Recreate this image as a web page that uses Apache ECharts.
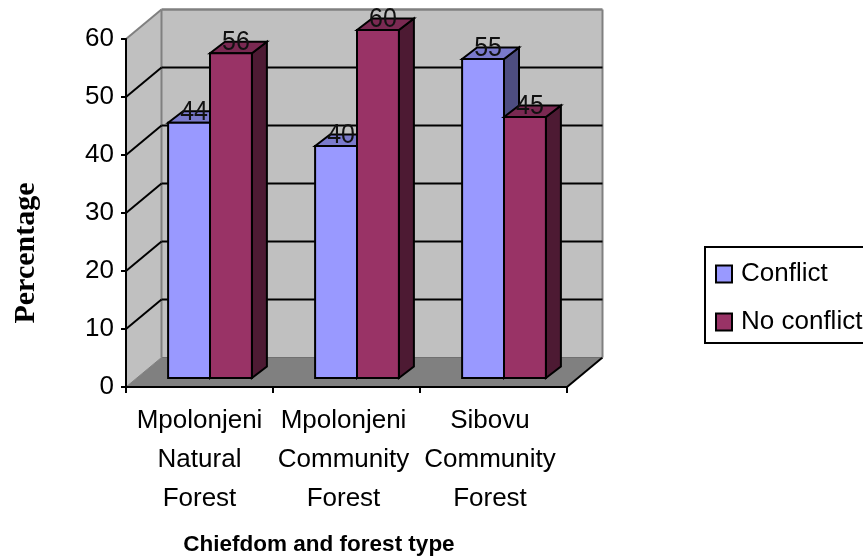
<!DOCTYPE html>
<html><head><meta charset="utf-8">
<style>html,body{margin:0;padding:0;background:#fff;overflow:hidden}#c{width:863px;height:559px}</style>
<script src="https://cdn.jsdelivr.net/npm/echarts@6/dist/echarts.min.js"></script>
</head><body><div id="c"></div>
<script>
const categories = ['Mpolonjeni\nNatural\nForest', 'Mpolonjeni\nCommunity\nForest', 'Sibovu\nCommunity\nForest'];
const conflict = [44, 40, 55];
const noConflict = [56, 60, 45];
const yTicks = [0, 10, 20, 30, 40, 50, 60];
const xTitle = 'Chiefdom and forest type';
const yTitle = 'Percentage';

const FONT = '"Liberation Sans", Arial, sans-serif';
const WALL = {dx: 35.5, dy: -29.5};
const BAR_PLANE = {dx: 10.5, dy: -9};
const BAR_DEPTH = {dx: 15, dy: -11.5};
const BAR_FRAC = 0.285;
const LW = 2;
const COL = {
  conflict: {front: '#9999FF', top: '#7A7ACC', side: '#4D4D80'},
  noConflict: {front: '#993366', top: '#7A2952', side: '#4D1A33'}
};

function poly(pts, fill, stroke, lw) {
  return {type: 'polygon', shape: {points: pts},
    style: {fill: fill, stroke: stroke || 'none', lineWidth: lw || 0, lineJoin: 'miter'}};
}
function line(x1, y1, x2, y2, stroke, lw) {
  return {type: 'line', shape: {x1, y1, x2, y2}, style: {stroke, lineWidth: lw}};
}

function renderWalls(params, api) {
  const r = params.coordSys;
  const t = api.value(1);
  const y = api.coord([0, t])[1];
  const L = r.x, R = r.x + r.width, T = r.y, B = r.y + r.height;
  const d = WALL;
  const ch = [];
  if (params.dataIndex === 0) {
    ch.push(poly([[L, T], [L + d.dx, T + d.dy], [L + d.dx, B + d.dy], [L, B]], '#C0C0C0'));
    ch.push(poly([[L + d.dx, T + d.dy], [R + d.dx, T + d.dy], [R + d.dx, B + d.dy], [L + d.dx, B + d.dy]], '#C0C0C0'));
    ch.push(poly([[L, B], [L + d.dx, B + d.dy], [R + d.dx, B + d.dy], [R, B]], '#808080'));
    ch.push(line(L + d.dx, B + d.dy, R + d.dx, B + d.dy, '#707070', 1));
    ch.push(line(L, B, L + d.dx, B + d.dy, '#808080', 1));
    ch.push(line(R, B, R + d.dx, B + d.dy, '#000', LW));
    ch.push(line(L + d.dx, T + d.dy, R + d.dx, T + d.dy, '#808080', 2.4));
    ch.push(line(L + d.dx, T + d.dy, L + d.dx, B + d.dy, '#808080', LW));
    ch.push(line(R + d.dx, T + d.dy, R + d.dx, B + d.dy, '#808080', LW));
    ch.push(line(L, T, L + d.dx, T + d.dy, '#808080', LW));
  } else if (t < yTicks[yTicks.length - 1]) {
    ch.push(line(L, y, L + d.dx, y + d.dy, '#000', LW));
    ch.push(line(L + d.dx, y + d.dy, R + d.dx, y + d.dy, '#000', LW));
  }
  return {type: 'group', children: ch};
}

function renderBar(side, colors) {
  return function (params, api) {
    const idx = api.value(0), v = api.value(1);
    const c = api.coord([idx, v]);
    const c0 = api.coord([idx, 0]);
    const w = api.size([1, 0])[0] * BAR_FRAC;
    const mid = c[0] + BAR_PLANE.dx;
    const x0 = side === 0 ? mid - w : mid;
    const x1 = x0 + w;
    const yT = c[1] + BAR_PLANE.dy, yB = c0[1] + BAR_PLANE.dy;
    const dx = BAR_DEPTH.dx, dy = BAR_DEPTH.dy;
    const front = poly([[x0, yT], [x1, yT], [x1, yB], [x0, yB]], colors.front, '#000', LW);
    const top = poly([[x0, yT], [x0 + dx, yT + dy], [x1 + dx, yT + dy], [x1, yT]], colors.top, '#000', LW);
    const sd = poly([[x1, yT], [x1 + dx, yT + dy], [x1 + dx, yB + dy], [x1, yB]], colors.side, '#000', LW);
    return {type: 'group', children: [sd, top, front]};
  };
}

function renderLabel(side) {
  return function (params, api) {
    const idx = api.value(0), v = api.value(1);
    const c = api.coord([idx, v]);
    const w = api.size([1, 0])[0] * BAR_FRAC;
    const mid = c[0] + BAR_PLANE.dx;
    const cx = (side === 0 ? mid - w / 2 : mid + w / 2) + 5;
    return {type: 'text', x: cx, y: c[1] + BAR_PLANE.dy - 11, scaleY: 1.12,
      style: {text: String(v), font: '25px ' + FONT, fill: '#111', align: 'center', verticalAlign: 'middle'}};
  };
}

const toData = arr => arr.map((v, i) => [i, v]);
const labelBase = {color: '#000', fontFamily: FONT, fontSize: 26, lineHeight: 39};
const chart = echarts.init(document.getElementById('c'), null, {renderer: 'canvas'});
chart.setOption({
  animation: false,
  backgroundColor: '#fff',
  grid: {left: 126, top: 39, width: 441, height: 348, containLabel: false},
  xAxis: {
    type: 'category', data: categories, z: 10,
    axisLine: {lineStyle: {color: '#000', width: LW}},
    axisTick: {show: true, length: 6, lineStyle: {color: '#000', width: LW}, alignWithLabel: false},
    axisLabel: {
      color: '#000', fontFamily: FONT, fontSize: 26, lineHeight: 39, margin: 14, interval: 0, hideOverlap: false,
      formatter: (val, i) => val.split('\n').map(s => '{s' + i + '|' + s + '}').join('\n'),
      rich: {
        s0: Object.assign({}, labelBase),
        s1: Object.assign({padding: [0, 6, 0, 0]}, labelBase),
        s2: Object.assign({padding: [0, 7, 0, 0]}, labelBase)
      }
    }
  },
  yAxis: {
    type: 'value', min: 0, max: 60, interval: 10, z: 10,
    splitLine: {show: false},
    axisLine: {show: true, lineStyle: {color: '#000', width: LW}},
    axisTick: {show: true, length: 5, lineStyle: {color: '#000', width: LW}},
    axisLabel: {color: '#000', fontFamily: FONT, fontSize: 26, margin: 12, padding: [4, 0, 0, 0]}
  },
  legend: {
    orient: 'vertical', left: 705, top: 247, z: 20,
    data: ['Conflict', 'No conflict'],
    padding: [12, 40, 6, 10],
    itemWidth: 16, itemHeight: 17, itemGap: 18,
    borderColor: '#000', borderWidth: 2, backgroundColor: '#fff',
    icon: 'rect', selectedMode: false,
    textStyle: {color: '#000', fontFamily: FONT, fontSize: 26, lineHeight: 24, padding: [6, 0, 0, 4]}
  },
  graphic: [
    {type: 'text', x: 26, y: 253, rotation: Math.PI / 2, z: 20,
      style: {text: yTitle, font: 'bold 30px "Liberation Serif", serif', fill: '#000', align: 'center', verticalAlign: 'middle'}},
    {type: 'text', x: 319, y: 545, z: 20,
      style: {text: xTitle, font: 'bold 22.5px ' + FONT, fill: '#000', align: 'center', verticalAlign: 'middle'}}
  ],
  series: [
    {type: 'custom', name: 'walls', renderItem: renderWalls, data: yTicks.map(t => [0, t]), silent: true, z: 1, encode: {x: 0, y: 1}},
    {type: 'custom', name: 'Conflict', renderItem: renderBar(0, COL.conflict), data: toData(conflict), z: 2, encode: {x: 0, y: 1},
      itemStyle: {color: COL.conflict.front, borderColor: '#000', borderWidth: LW}},
    {type: 'custom', name: 'No conflict', renderItem: renderBar(1, COL.noConflict), data: toData(noConflict), z: 3, encode: {x: 0, y: 1},
      itemStyle: {color: COL.noConflict.front, borderColor: '#000', borderWidth: LW}},
    {type: 'custom', name: 'labelsA', renderItem: renderLabel(0), data: toData(conflict), z: 4, silent: true, encode: {x: 0, y: 1}},
    {type: 'custom', name: 'labelsB', renderItem: renderLabel(1), data: toData(noConflict), z: 4, silent: true, encode: {x: 0, y: 1}}
  ]
});
</script></body></html>
